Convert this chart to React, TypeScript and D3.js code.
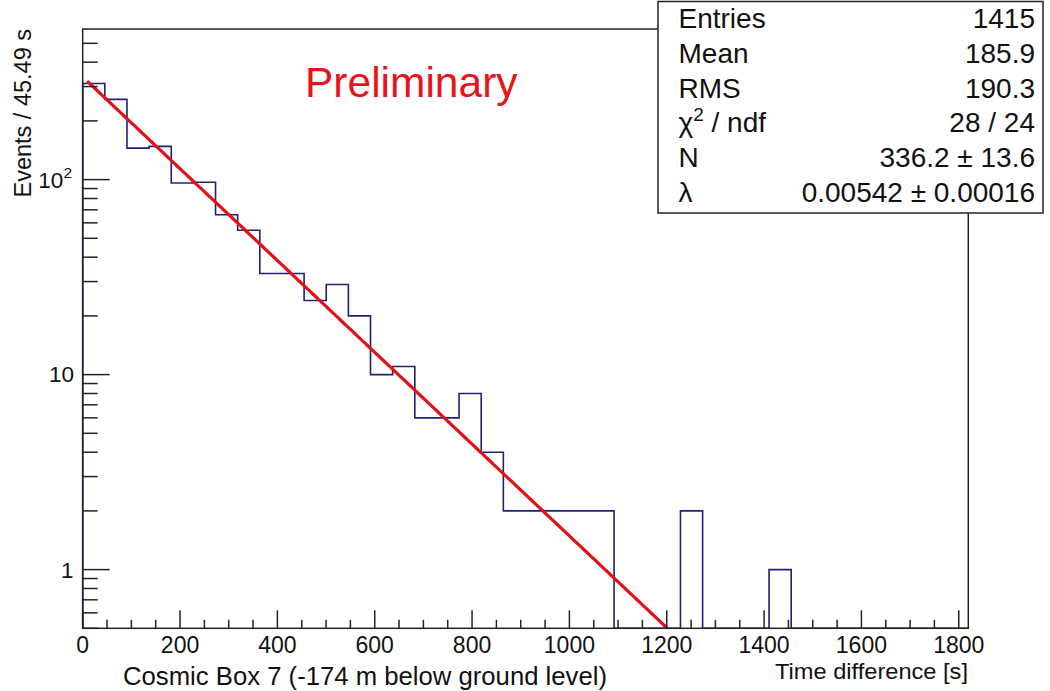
import React from "react";
import * as d3 from "d3";

// ---- data ----
const binWidth = 45.49;
const binCounts = [
  311, 258, 145, 148, 96, 97, 66, 55, 33, 33,
  24, 29, 20, 10, 11, 6, 6, 8, 4, 2,
  2, 2, 2, 2, 0, 0, 0, 2, 0, 0,
  0, 1, 0, 0, 0, 0, 0, 0, 0, 0,
];
const xTickValues = [0, 200, 400, 600, 800, 1000, 1200, 1400, 1600, 1800];
const yMajorTicks = [1, 10, 100];
const fitN = 336.2;
const fitLambda = 0.00542;
const fitStart = 9;
const statLabels = ["Entries", "Mean", "RMS", "chi2", "N", "\u03bb"];
const statValues = ["1415", "185.9", "190.3", "28 / 24", "336.2 \u00b1 13.6", "0.00542 \u00b1 0.00016"];

const W = 1050;
const H = 691;
const FONT = "'Liberation Sans', Arial, Helvetica, sans-serif";

export default function App() {
  const xMax = binCounts.length * binWidth;
  const left = 82.7, right = 968.3, top = 29, bottom = 628.3;
  const x = d3.scaleLinear().domain([0, xMax]).range([left, right]);
  const y = d3.scaleLog().domain([0.5, 592]).range([bottom, top]);
  const yv = (v: number) => (v <= 0.5 ? bottom : y(v));

  // histogram outline
  const pts: [number, number][] = [[x(0), bottom]];
  binCounts.forEach((c, i) => {
    pts.push([x(i * binWidth), yv(c)]);
    pts.push([x((i + 1) * binWidth), yv(c)]);
  });
  pts.push([x(xMax), bottom]);
  const histPath = d3.line()(pts) as string;

  // fit curve
  const fitPts: [number, number][] = d3
    .range(fitStart, 1260, 5)
    .map((t) => [x(t), y(fitN * Math.exp(-fitLambda * t))]);
  const fitPath = d3.line()(fitPts) as string;

  // ticks
  const xMinor = d3.range(0, 1801, 50).filter((v) => v % 200 !== 0);
  const yMinor: number[] = [];
  [0.1, 1, 10, 100].forEach((d) => {
    for (let k = 2; k <= 9; k++) {
      const v = k * d;
      if (v >= 0.5 && v <= 592) yMinor.push(v);
    }
  });

  const statTop = 1.5, statBottom = 213, statLeft = 658, statRight = 1043;
  const rowBaseline = (i: number) => 28.3 + i * 34.7;

  return (
    <svg width={W} height={H} style={{ display: "block", position: "absolute", left: 0, top: 0, background: "#fff" }}>
      <defs>
        <clipPath id="frameClip">
          <rect x={left} y={top} width={right - left} height={bottom - top} />
        </clipPath>
      </defs>
      <rect x={0} y={0} width={W} height={H} fill="#fff" />

      {/* histogram */}
      <path d={histPath} fill="none" stroke="#20207a" strokeWidth={1.6} />

      {/* fit */}
      <path d={fitPath} fill="none" stroke="#e01218" strokeWidth={3.2} clipPath="url(#frameClip)" strokeLinejoin="round" />

      {/* frame */}
      <rect x={left} y={top} width={right - left} height={bottom - top} fill="none" stroke="#222" strokeWidth={1.5} />

      {/* x ticks */}
      {xTickValues.map((v) => (
        <line key={"xt" + v} x1={x(v)} x2={x(v)} y1={bottom} y2={bottom - 18} stroke="#222" strokeWidth={1.5} />
      ))}
      {xMinor.map((v) => (
        <line key={"xm" + v} x1={x(v)} x2={x(v)} y1={bottom} y2={bottom - 8.5} stroke="#222" strokeWidth={1.5} />
      ))}
      {xTickValues.map((v) => (
        <text key={"xl" + v} x={x(v)} y={652.5} textAnchor="middle" fontFamily={FONT} fontSize={23} fill="#111">
          {v}
        </text>
      ))}

      {/* y ticks */}
      {yMajorTicks.map((v) => (
        <line key={"yt" + v} x1={left} x2={left + 27} y1={y(v)} y2={y(v)} stroke="#222" strokeWidth={1.5} />
      ))}
      {yMinor.map((v) => (
        <line key={"ym" + v} x1={left} x2={left + 15} y1={y(v)} y2={y(v)} stroke="#222" strokeWidth={1.5} />
      ))}
      <text x={73.5} y={y(1) + 8} textAnchor="end" fontFamily={FONT} fontSize={22.5} fill="#111">1</text>
      <text x={74} y={y(10) + 7.5} textAnchor="end" fontFamily={FONT} fontSize={22.5} fill="#111">10</text>
      <text x={72} y={y(100) + 8} textAnchor="end" fontFamily={FONT} fontSize={22.5} fill="#111">
        10<tspan fontSize={15.5} dy={-10}>2</tspan>
      </text>

      {/* axis titles */}
      <text
        transform={`translate(31, 29) rotate(-90)`}
        textAnchor="end"
        fontFamily={FONT}
        fontSize={23.5}
        fill="#111"
      >
        Events / 45.49 s
      </text>
      <text
        x={775}
        y={678.5}
        fontFamily={FONT}
        fontSize={22.3}
        fill="#111"
        textLength={193}
        lengthAdjust="spacingAndGlyphs"
      >
        Time difference [s]
      </text>
      <text x={123} y={684.5} fontFamily={FONT} fontSize={25.7} fill="#111">
        Cosmic Box 7 (-174 m below ground level)
      </text>

      {/* Preliminary */}
      <text x={305} y={97} fontFamily={FONT} fontSize={42.5} fill="#e8141c">
        Preliminary
      </text>

      {/* stats box */}
      <rect x={statLeft} y={statTop} width={statRight - statLeft} height={statBottom - statTop} fill="#fff" stroke="#222" strokeWidth={1.5} />
      {statLabels.map((lab, i) => (
        <text key={"sl" + i} x={678.5} y={rowBaseline(i)} fontFamily={FONT} fontSize={28} fill="#111">
          {lab === "chi2" ? (
            <>
              {"\u03c7"}
              <tspan fontSize={19} dy={-11}>2</tspan>
              <tspan dy={11}>{" / ndf"}</tspan>
            </>
          ) : (
            lab
          )}
        </text>
      ))}
      {statValues.map((val, i) => (
        <text key={"sv" + i} x={1035} y={rowBaseline(i)} textAnchor="end" fontFamily={FONT} fontSize={28} fill="#111">
          {val}
        </text>
      ))}
    </svg>
  );
}
